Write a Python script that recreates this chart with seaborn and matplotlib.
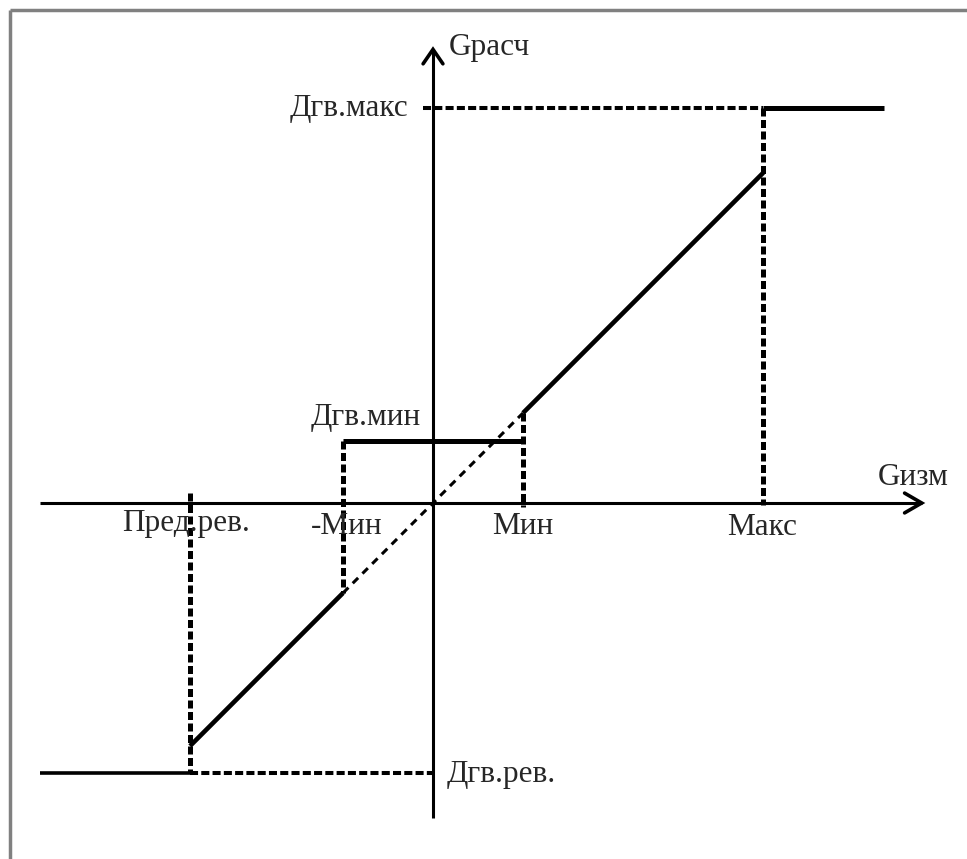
import matplotlib
matplotlib.use("Agg")
import matplotlib.pyplot as plt
import seaborn as sns
from matplotlib.lines import Line2D

# ---- data (units: 1 unit of G) ----
g_min = 1.0            # Мин
g_max = 3.67           # Макс
g_predrev = -2.70      # Пред.рев.
d_min = 0.69           # Дгв.мин
d_max = 4.39           # Дгв.макс
d_rev = -3.00          # Дгв.рев.
x_axis_range = [-4.37, 5.43]
y_axis_range = [-3.50, 5.04]
x_right_end = 5.01
x_left_end = -4.37

sns.set_style("white")
plt.rcParams['font.family'] = ['Liberation Serif', 'DejaVu Serif']

fig = plt.figure(figsize=(9.67, 8.59), dpi=100)
ax = fig.add_axes([0, 0, 1, 1])
ax.set_xlim(-433 / 90, (967 - 433) / 90)
ax.set_ylim((503 - 859) / 90, 503 / 90)
ax.axis('off')

def seg(xs, ys, lw, ls='-', cap='butt'):
    sns.lineplot(x=xs, y=ys, ax=ax, color='black', lw=lw, linestyle=ls,
                 sort=False, estimator=None, solid_capstyle=cap,
                 dash_capstyle='butt', legend=False)

# axes
seg(x_axis_range, [0, 0], 2.2)
seg([0, 0], y_axis_range, 2.2)
# arrow heads
ax.plot([x_axis_range[1] - 0.19, x_axis_range[1], x_axis_range[1] - 0.19],
        [0.11, 0, -0.11], color='black', lw=2.6, solid_joinstyle='miter')
ax.plot([-0.11, 0, 0.11],
        [y_axis_range[1] - 0.16, y_axis_range[1], y_axis_range[1] - 0.16],
        color='black', lw=2.6, solid_joinstyle='miter')

vdash = (0, (1.6, 0.7))
hdash = (0, (2.0, 0.8))
ddash = (0, (2.5, 2.0))

# dashed helpers
seg([g_max, g_max], [d_max, -0.02], 3.6, vdash)
seg([-0.11, g_max], [d_max, d_max], 2.9, hdash)
seg([g_min, g_min], [g_min, -0.04], 3.6, vdash)
seg([-g_min, -g_min], [d_min, -g_min], 3.6, vdash)
seg([g_predrev, g_predrev], [0.11, d_rev], 3.6, vdash)
seg([g_predrev, 0.05], [d_rev, d_rev], 2.9, hdash)
seg([-g_min, g_min], [-g_min, g_min], 2.2, ddash)

# solid characteristic
seg([g_max, x_right_end], [d_max, d_max], 3.6)
seg([g_min, g_max], [g_min, g_max], 3.3)
seg([-g_min, g_min], [d_min, d_min], 3.6)
seg([g_predrev, -g_min], [g_predrev, -g_min], 3.3)
seg([x_left_end, g_predrev], [d_rev, d_rev], 2.6)

fs = 22.5
def px(xp, yp):
    return (xp - 433) / 90, (503 - yp) / 90

ax.text(*px(449, 55), "Gрасч", fontsize=fs, ha='left', va='baseline')
ax.text(*px(408, 116), "Дгв.макс", fontsize=fs, ha='right', va='baseline')
ax.text(*px(366, 425), "Дгв.мин", fontsize=fs, ha='center', va='baseline')
ax.text(*px(347, 534), "-Мин", fontsize=fs, ha='center', va='baseline')
ax.text(*px(523, 534), "Мин", fontsize=fs, ha='center', va='baseline')
ax.text(*px(762, 535), "Макс", fontsize=fs, ha='center', va='baseline')
ax.text(*px(186, 531), "Пред.рев.", fontsize=fs, ha='center', va='baseline')
ax.text(*px(878, 485), "Gизм", fontsize=fs, ha='left', va='baseline')
ax.text(*px(447, 782), "Дгв.рев.", fontsize=fs, ha='left', va='baseline')

# gray frame (top and left)
fig.add_artist(Line2D([9.5 / 967, 1], [1 - 10 / 859, 1 - 10 / 859],
                      transform=fig.transFigure, color='#808080', lw=2.5,
                      solid_capstyle='butt'))
fig.add_artist(Line2D([9.5 / 967, 9.5 / 967], [0, 1 - 10 / 859],
                      transform=fig.transFigure, color='#808080', lw=2.5,
                      solid_capstyle='butt'))

fig.savefig("out.png", dpi=100)
